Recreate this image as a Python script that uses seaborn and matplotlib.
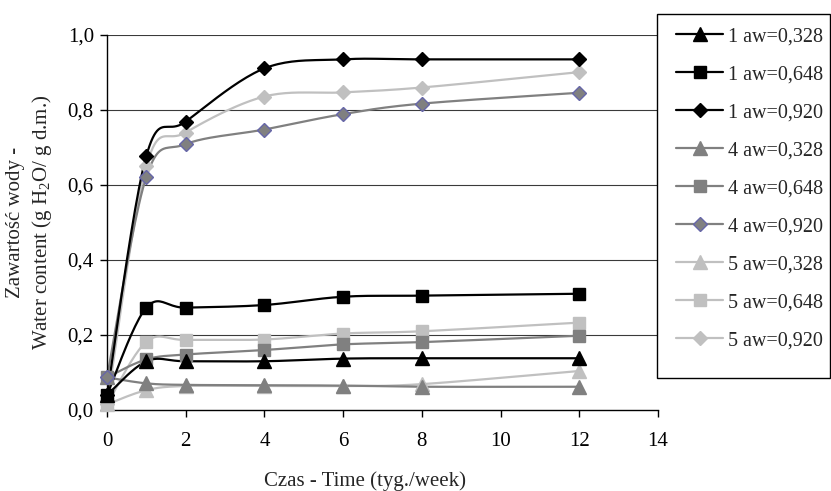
import numpy as np
import matplotlib
matplotlib.use("Agg")
import matplotlib.pyplot as plt
from matplotlib.lines import Line2D
from matplotlib.patches import Rectangle
from matplotlib.ticker import FuncFormatter
import seaborn as sns
import pandas as pd

# ---------------- data ----------------
weeks = [0, 1, 2, 4, 6, 8, 12]
s1_328 = [0.040, 0.130, 0.130, 0.130, 0.137, 0.138, 0.138]
s1_648 = [0.040, 0.273, 0.273, 0.280, 0.302, 0.305, 0.310]
s1_920 = [0.040, 0.678, 0.769, 0.911, 0.935, 0.935, 0.935]
s4_328 = [0.087, 0.071, 0.067, 0.066, 0.065, 0.062, 0.062]
s4_648 = [0.087, 0.135, 0.148, 0.160, 0.175, 0.181, 0.198]
s4_920 = [0.087, 0.622, 0.709, 0.748, 0.789, 0.817, 0.846]
s5_328 = [0.015, 0.053, 0.064, 0.064, 0.064, 0.069, 0.104]
s5_648 = [0.015, 0.182, 0.187, 0.188, 0.204, 0.210, 0.233]
s5_920 = [0.015, 0.651, 0.740, 0.836, 0.847, 0.860, 0.901]
labels = ["1 aw=0,328", "1 aw=0,648", "1 aw=0,920",
          "4 aw=0,328", "4 aw=0,648", "4 aw=0,920",
          "5 aw=0,328", "5 aw=0,648", "5 aw=0,920"]
values = [s1_328, s1_648, s1_920, s4_328, s4_648, s4_920, s5_328, s5_648, s5_920]
x_ticks = [0, 2, 4, 6, 8, 10, 12, 14]
y_ticks = [0.0, 0.2, 0.4, 0.6, 0.8, 1.0]
x_title = "Czas - Time (tyg./week)"
y_title = "Zawartość wody -\nWater content (g H$_2$O/ g d.m.)"

# ---------------- style ----------------
BLACK, GREY, LIGHT = "#000000", "#808080", "#C0C0C0"
styles = [
    dict(color=BLACK, marker="^", mfc=BLACK, mec=BLACK, ms=9.5),
    dict(color=BLACK, marker="s", mfc=BLACK, mec=BLACK, ms=9),
    dict(color=BLACK, marker="D", mfc=BLACK, mec=BLACK, ms=7),
    dict(color=GREY, marker="^", mfc=GREY, mec=GREY, ms=9.5),
    dict(color=GREY, marker="s", mfc=GREY, mec=GREY, ms=9),
    dict(color=GREY, marker="D", mfc=GREY, mec="#6666A8", ms=7),
    dict(color=LIGHT, marker="^", mfc=LIGHT, mec=LIGHT, ms=9.5),
    dict(color=LIGHT, marker="s", mfc=LIGHT, mec=LIGHT, ms=9),
    dict(color=LIGHT, marker="D", mfc=LIGHT, mec=LIGHT, ms=7),
]

sns.set_theme(style="white")
plt.rcParams["font.family"] = ["Liberation Serif", "DejaVu Serif"]
plt.rcParams["mathtext.fontset"] = "custom"
plt.rcParams["mathtext.rm"] = "Liberation Serif"
plt.rcParams["mathtext.it"] = "Liberation Serif:italic"
FS = 15
LFS = 14.5


def smooth(x, y, n=24):
    """Excel-like smoothed line (Catmull-Rom Bezier) through the data points."""
    pts = np.column_stack([np.asarray(x, float), np.asarray(y, float)])
    out = []
    for i in range(len(pts) - 1):
        p0 = pts[i - 1] if i > 0 else pts[i]
        p1, p2 = pts[i], pts[i + 1]
        p3 = pts[i + 2] if i + 2 < len(pts) else pts[i + 1]
        c1 = p1 + (p2 - p0) / 6.0
        c2 = p2 - (p3 - p1) / 6.0
        t = np.linspace(0, 1, n)[:, None]
        seg = (1 - t) ** 3 * p1 + 3 * (1 - t) ** 2 * t * c1 + 3 * (1 - t) * t ** 2 * c2 + t ** 3 * p2
        out.append(seg if i == 0 else seg[1:])
    return np.vstack(out)


W, H = 831, 491
fig = plt.figure(figsize=(W / 100, H / 100), dpi=100)
ax = fig.add_axes([107 / W, 1 - 410 / H, (658 - 107) / W, (410 - 35) / H])

ax.set_xlim(0, 14)
ax.set_ylim(0, 1.0)
for yv in y_ticks[1:]:
    ax.axhline(yv, color="#3a3a3a", lw=0.8, zorder=0)

order = [6, 7, 8, 3, 4, 5, 0, 1, 2]
for k, i in enumerate(order):
    st = styles[i]
    curve = smooth(weeks, values[i])
    df_line = pd.DataFrame({"x": curve[:, 0], "y": curve[:, 1]})
    sns.lineplot(data=df_line, x="x", y="y", ax=ax, color=st["color"], lw=1.6,
                 sort=False, estimator=None, zorder=2 + k * 0.1)
    ax.plot(weeks, values[i], linestyle="none", marker=st["marker"], ms=st["ms"],
            mfc=st["mfc"], mec=st["mec"], mew=1.0, clip_on=False, zorder=3 + k * 0.1)

ax.set_xlabel("")
ax.set_ylabel("")
ax.set_xticks(x_ticks)
ax.set_yticks(y_ticks)
ax.yaxis.set_major_formatter(FuncFormatter(lambda v, p: f"{v:.1f}".replace(".", ",")))
ax.xaxis.set_major_formatter(FuncFormatter(lambda v, p: f"{v:.0f}"))
ax.tick_params(axis="both", direction="out", length=5, width=1, color="black",
               labelsize=FS, labelcolor="black", left=True, bottom=True)
ax.tick_params(axis="y", pad=4.5)
ax.tick_params(axis="x", pad=10.5)
for s in ["top", "right"]:
    ax.spines[s].set_visible(False)
for s in ["left", "bottom"]:
    ax.spines[s].set_color("black")
    ax.spines[s].set_linewidth(1)

fig.text(365 / W, 1 - 481 / H, x_title, ha="center", va="center", fontsize=FS)
fig.text(30 / W, 1 - 222 / H, y_title, rotation=90, ha="center", va="center",
         multialignment="center", fontsize=FS, linespacing=1.3)

# legend frame (Excel-style box)
fig.patches.append(Rectangle((657 / W, 1 - 378 / H), (830 - 657) / W, (378 - 14) / H,
                             transform=fig.transFigure, fill=False, edgecolor="black",
                             linewidth=1, figure=fig))
handles = [Line2D([], [], color=st["color"], lw=1.6, marker=st["marker"], ms=st["ms"],
                  mfc=st["mfc"], mec=st["mec"]) for st in styles]
leg = fig.legend(handles, labels, loc="upper left", bbox_to_anchor=(676 / W, 1 - 27 / H),
                 bbox_transform=fig.transFigure, fontsize=LFS, frameon=False,
                 borderpad=0, labelspacing=0.94, handlelength=2.34,
                 handletextpad=0.25, borderaxespad=0)

fig.savefig("out.png", dpi=100)
